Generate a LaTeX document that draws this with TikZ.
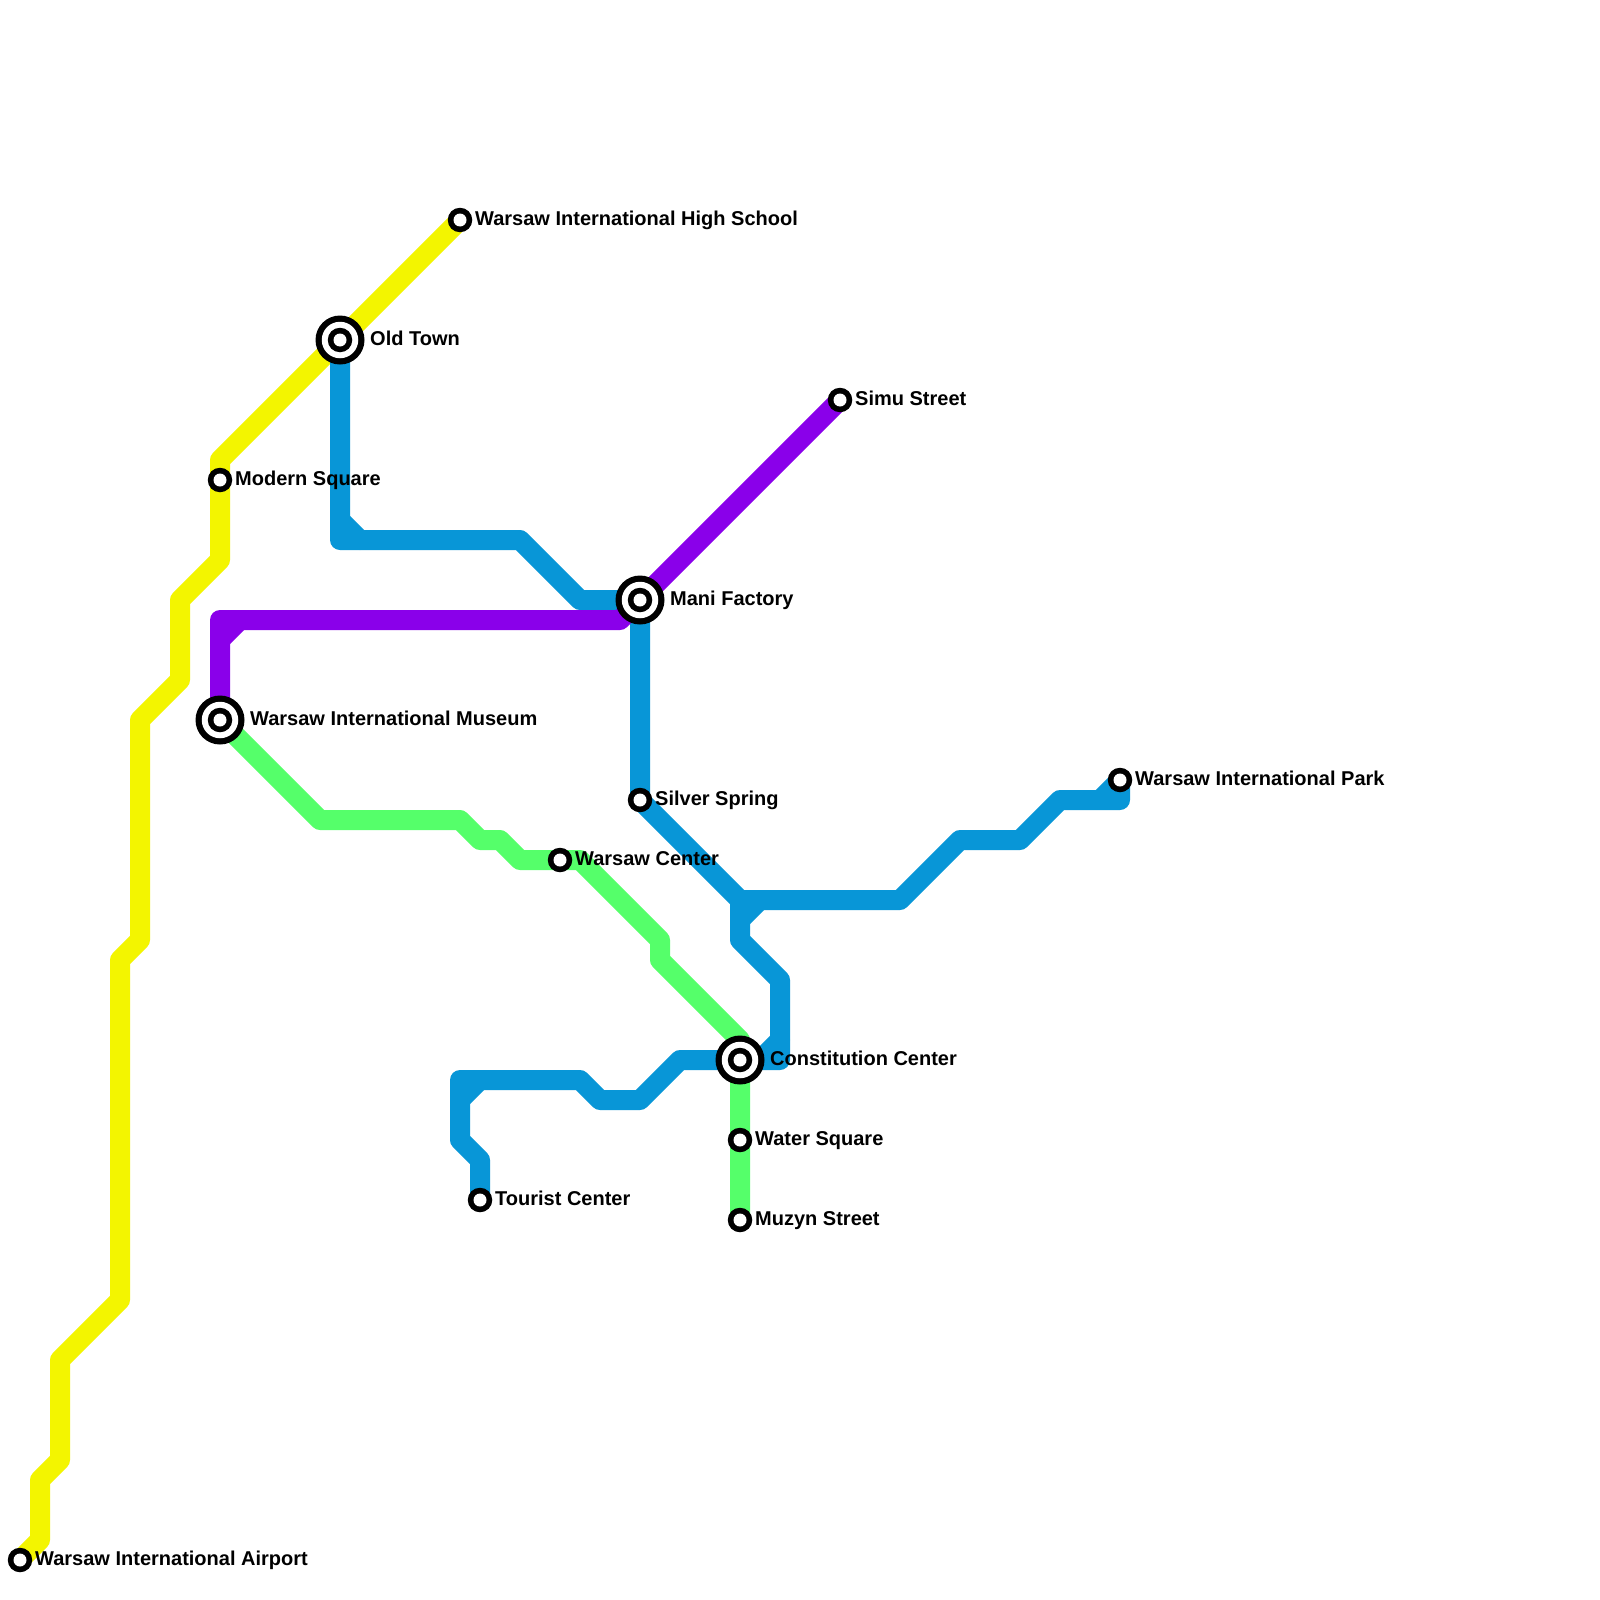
\documentclass[tikz,border=0pt]{standalone}
\usepackage{fontspec}
\setmainfont{Liberation Sans}
\definecolor{lyellow}{HTML}{F3F500}
\definecolor{lblue}{HTML}{0896D7}
\definecolor{lgreen}{HTML}{55FF6A}
\definecolor{lpurple}{HTML}{8A00EA}
\tikzset{
  metro/.style={line width=20pt,line join=round,line cap=round},
  disc/.style={circle,draw=none,inner sep=0pt,outer sep=0pt},
  lbl/.style={anchor=base west,inner sep=0pt,font=\fontsize{20}{20}\selectfont\bfseries,text=black},
}
\newcommand{\smallstation}[2]{%
  \node[disc,fill=black,minimum size=24.5pt] (#1) at (#2) {};
  \node[disc,fill=white,minimum size=13pt] (#1w) at (#2) {};}
\newcommand{\bigstation}[2]{%
  \node[disc,fill=black,minimum size=49pt] (#1) at (#2) {};
  \node[disc,fill=white,minimum size=36.5pt] (#1a) at (#2) {};
  \node[disc,fill=black,minimum size=24.5pt] (#1b) at (#2) {};
  \node[disc,fill=white,minimum size=13pt] (#1c) at (#2) {};}
\begin{document}
\begin{tikzpicture}[x=1pt,y=-1pt]
\useasboundingbox (0,0) rectangle (1600,1600);
\fill[white] (0,0) rectangle (1600,1600);
% station positions
\coordinate (airport) at (20,1560);
\coordinate (modern) at (220,480);
\coordinate (oldtown) at (340,340);
\coordinate (school) at (460,220);
\coordinate (simu) at (840,400);
\coordinate (mani) at (640,600);
\coordinate (museum) at (220,720);
\coordinate (silver) at (640,800);
\coordinate (park) at (1120,780);
\coordinate (wcenter) at (560,860);
\coordinate (constitution) at (740,1060);
\coordinate (water) at (740,1140);
\coordinate (muzyn) at (740,1220);
\coordinate (tourist) at (480,1200);
% yellow
\draw[metro,lyellow] (airport) -- (40,1540) -- (40,1480) -- (60,1460) -- (60,1360) -- (120,1300) -- (120,960) -- (140,940) -- (140,720) -- (180,680) -- (180,600) -- (220,560) -- (modern) -- (220,460) -- (oldtown) -- (school);
% green
\draw[metro,lgreen] (museum) -- (320,820) -- (460,820) -- (480,840) -- (500,840) -- (520,860) -- (wcenter) -- (580,860) -- (660,940) -- (660,960) -- (740,1040) -- (constitution) -- (water) -- (muzyn);
% blue
\draw[metro,lblue] (oldtown) -- (340,540) -- (520,540) -- (580,600) -- (mani) -- (silver) -- (740,900) -- (900,900) -- (960,840) -- (1020,840) -- (1060,800) -- (1120,800) -- (park) -- (1100,800);
\draw[metro,lblue] (340,520) -- (360,540);
\draw[metro,lblue] (740,920) -- (760,900);
\draw[metro,lblue] (740,900) -- (740,940) -- (780,980) -- (780,1060) -- (constitution) -- (680,1060) -- (640,1100) -- (600,1100) -- (580,1080) -- (460,1080) -- (460,1140) -- (480,1160) -- (tourist);
\draw[metro,lblue] (760,1060) -- (780,1040);
\draw[metro,lblue] (460,1100) -- (480,1080);
% purple
\draw[metro,lpurple] (simu) -- (mani) -- (620,620) -- (220,620) -- (museum);
\draw[metro,lpurple] (220,640) -- (240,620);
% stations
\smallstation{nAirport}{airport}
\smallstation{nModern}{modern}
\smallstation{nSchool}{school}
\smallstation{nSimu}{simu}
\smallstation{nSilver}{silver}
\smallstation{nPark}{park}
\smallstation{nCenter}{wcenter}
\smallstation{nWater}{water}
\smallstation{nMuzyn}{muzyn}
\smallstation{nTourist}{tourist}
\bigstation{nOld}{oldtown}
\bigstation{nMani}{mani}
\bigstation{nMus}{museum}
\bigstation{nCon}{constitution}
% labels
\node[lbl] (tAirport) at (35,1565) {Warsaw International Airport};
\node[lbl] (tModern) at (235,485) {Modern Square};
\node[lbl] (tSchool) at (475,225) {Warsaw International High School};
\node[lbl] (tSimu) at (855,405) {Simu Street};
\node[lbl] (tSilver) at (655,805) {Silver Spring};
\node[lbl] (tPark) at (1135,785) {Warsaw International Park};
\node[lbl] (tCenter) at (575,865) {Warsaw Center};
\node[lbl] (tWater) at (755,1145) {Water Square};
\node[lbl] (tMuzyn) at (755,1225) {Muzyn Street};
\node[lbl] (tTourist) at (495,1205) {Tourist Center};
\node[lbl] (tOld) at (370,345) {Old Town};
\node[lbl] (tMani) at (670,605) {Mani Factory};
\node[lbl] (tMuseum) at (250,725) {Warsaw International Museum};
\node[lbl] (tCon) at (770,1065) {Constitution Center};
\end{tikzpicture}
\end{document}
